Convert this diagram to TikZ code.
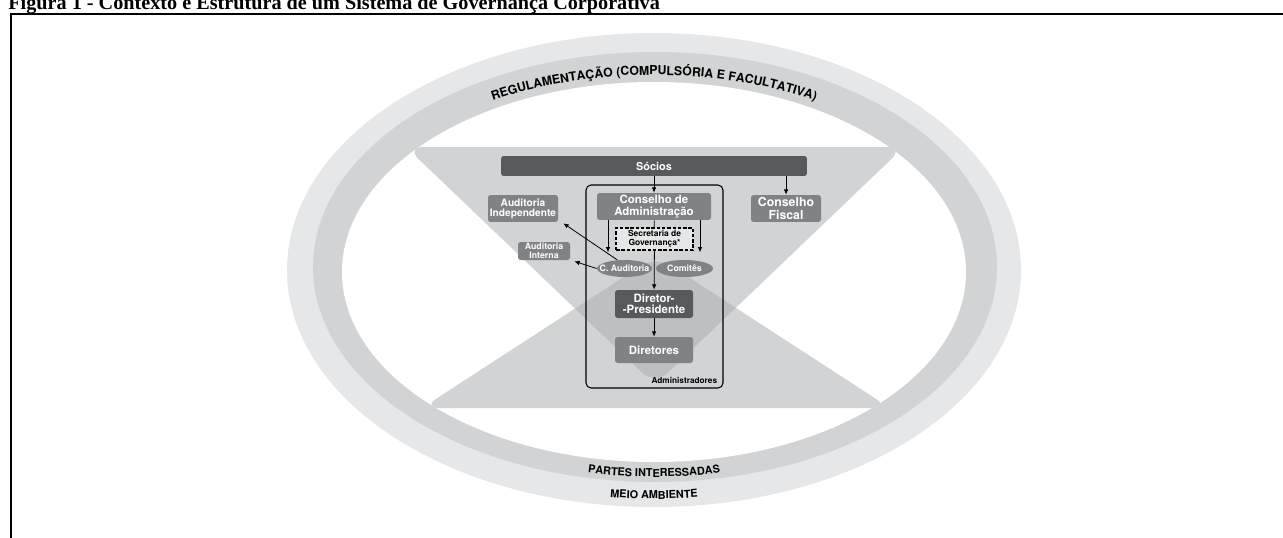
\documentclass[tikz,border=0pt]{standalone}
\usepackage{fontspec}
\setmainfont{Liberation Serif}
\setsansfont{TeX Gyre Heros}
\usepackage{tikz}
\usetikzlibrary{arrows.meta}
\usetikzlibrary{shapes.geometric}
\usetikzlibrary{decorations.text}
\definecolor{anel}{HTML}{E6E7E8}
\definecolor{aneldois}{HTML}{D1D3D4}
\definecolor{cruz}{HTML}{BDBFC1}
\definecolor{cinza}{HTML}{808285}
\definecolor{escuro}{HTML}{58595B}

\begin{document}
\begin{tikzpicture}[
			x=0.02cm, y=0.02cm,
			C/.style = {rectangle, rounded corners=1.5pt, fill=cinza,% caixas cinzentas
				text=white, align=center, inner sep=0pt,
				font=\sffamily\bfseries\fontsize{#1}{#1}\selectfont},
			C/.default=6.5,
			D/.style = {C=#1, fill=escuro},% caixas escuras
			D/.default=6.5,
			E/.style = {ellipse, fill=cinza, text=white, inner xsep=-0.11cm, inner ysep=0pt,
				minimum height=0.34cm,
				font=\sffamily\bfseries\fontsize{5}{5}\selectfont},
			S/.style = {-{Latex[length=3pt,width=2.6pt]}, line width=0.45pt},
			T/.style = {decorate, decoration={text along path, text align=center,
				text={|\sffamily\bfseries\fontsize{#1}{#1}\selectfont|\anelTexto}}},
			]
			\useasboundingbox (0,0) rectangle (1283,-537);
			\node (titulo) [anchor=base west, inner sep=0pt,
				font=\bfseries\fontsize{11.5}{12}\selectfont] at (8,-10)
				{Figura 1 - Contexto e Estrutura de um Sistema de Governança Corporativa};
			\draw[line width=1.1pt] (11,-560) -- (11,-14) -- (1300,-14);
			% aneis
			\fill[anel] (654,-270) ellipse [x radius=367, y radius=237];
			\fill[aneldois] (655,-267) ellipse [x radius=342, y radius=215];
			\fill[white] (654,-272) ellipse [x radius=312, y radius=190];
			% ampulheta
			\coordinate (t1) at (406,-147);
			\coordinate (t2) at (904,-147);
			\coordinate (t3) at (655,-385);
			\coordinate (b1) at (422,-408);
			\coordinate (b2) at (890,-408);
			\coordinate (b3) at (656,-256);
			\fill[aneldois, rounded corners=0.35cm] (t1) -- (t2) -- (t3) -- cycle;
			\fill[aneldois, rounded corners=0.35cm] (b1) -- (b2) -- (b3) -- cycle;
			\begin{scope}
				\clip[rounded corners=0.35cm] (t1) -- (t2) -- (t3) -- cycle;
				\fill[cruz, rounded corners=0.35cm] (b1) -- (b2) -- (b3) -- cycle;
			\end{scope}
			\def\anelTexto{REGULAMENTAÇÃO (COMPULSÓRIA E FACULTATIVA)}
			\path[T=7] (654,-270) ++(150:325 and 195)
				arc [start angle=150, end angle=30, x radius=325, y radius=195];
			\def\anelTexto{PARTES INTERESSADAS}
			\path[T=6.2] (654,-270) ++(235:332 and 207)
				arc [start angle=235, end angle=305, x radius=332, y radius=207];
			\def\anelTexto{MEIO AMBIENTE}
			\path[T=6.2] (654,-270) ++(240:355 and 229)
				arc [start angle=240, end angle=300, x radius=355, y radius=229];
			% estrutura
			\node (socios) [D=6.2, minimum width=6.12cm, minimum height=0.40cm] at (654,-166) {Sócios};
			\node (conselho) [C, minimum width=2.28cm, minimum height=0.54cm] at (654,-206.5)
				{Conselho de\\Administração};
			\node (fiscal) [C=7, minimum width=1.40cm, minimum height=0.54cm] at (786,-208.5)
				{Conselho\\Fiscal};
			\node (audind) [C=5.8, minimum width=1.40cm, minimum height=0.54cm] at (523,-208.5)
				{Auditoria\\Independente};
			\node (secretaria) [draw, dashed, dash pattern=on 2pt off 1pt, line width=0.6pt,
				fill=anel, text=black, align=center, inner sep=0pt,
				minimum width=1.54cm, minimum height=0.44cm,
				font=\sffamily\bfseries\fontsize{4.8}{5}\selectfont] at (654.5,-239)
				{Secretaria de\\Governança*};
			\node (caud) [E, minimum width=1.10cm] at (624.5,-268.5) {C. Auditoria};
			\node (comites) [E, minimum width=1.14cm] at (684.5,-268.5) {Comitês};
			\node (audint) [C=5, minimum width=1.04cm, minimum height=0.36cm] at (544,-251)
				{Auditoria\\Interna};
			\node (dirpres) [D, minimum width=1.56cm, minimum height=0.56cm] at (654,-304)
				{Diretor-\\-Presidente};
			\node (diretores) [C, minimum width=1.56cm, minimum height=0.52cm] at (654,-350)
				{Diretores};
			\node (adm) [draw, line width=0.6pt, rounded corners=0.1cm,
				minimum width=2.74cm, minimum height=4.06cm] at (654.5,-286.5) {};
			\node (admtxt) [anchor=base east, inner sep=0pt,
				font=\sffamily\bfseries\fontsize{4.7}{5}\selectfont]
				at ([shift={(-6,5)}]adm.south east) {Administradores};
			% setas
			\draw[S] (socios) -- (conselho);
			\draw[S] (socios.south -| fiscal.north) -- (fiscal.north);
			\draw[line width=0.45pt] (conselho) -- (secretaria);
			\draw[S] ([xshift=-0.92cm]conselho.south) -- ++(0,-32);
			\draw[S] ([xshift=0.92cm]conselho.south) -- ++(0,-32);
			\draw[S] (secretaria) -- (dirpres);
			\draw[S] (dirpres) -- (diretores);
			\draw[S] (caud.130) -- ([shift={(5,-1)}]audind.south east);
			\draw[S] (caud.west) -- ([shift={(4,-1)}]audint.south east);
		\end{tikzpicture}
\end{document}
